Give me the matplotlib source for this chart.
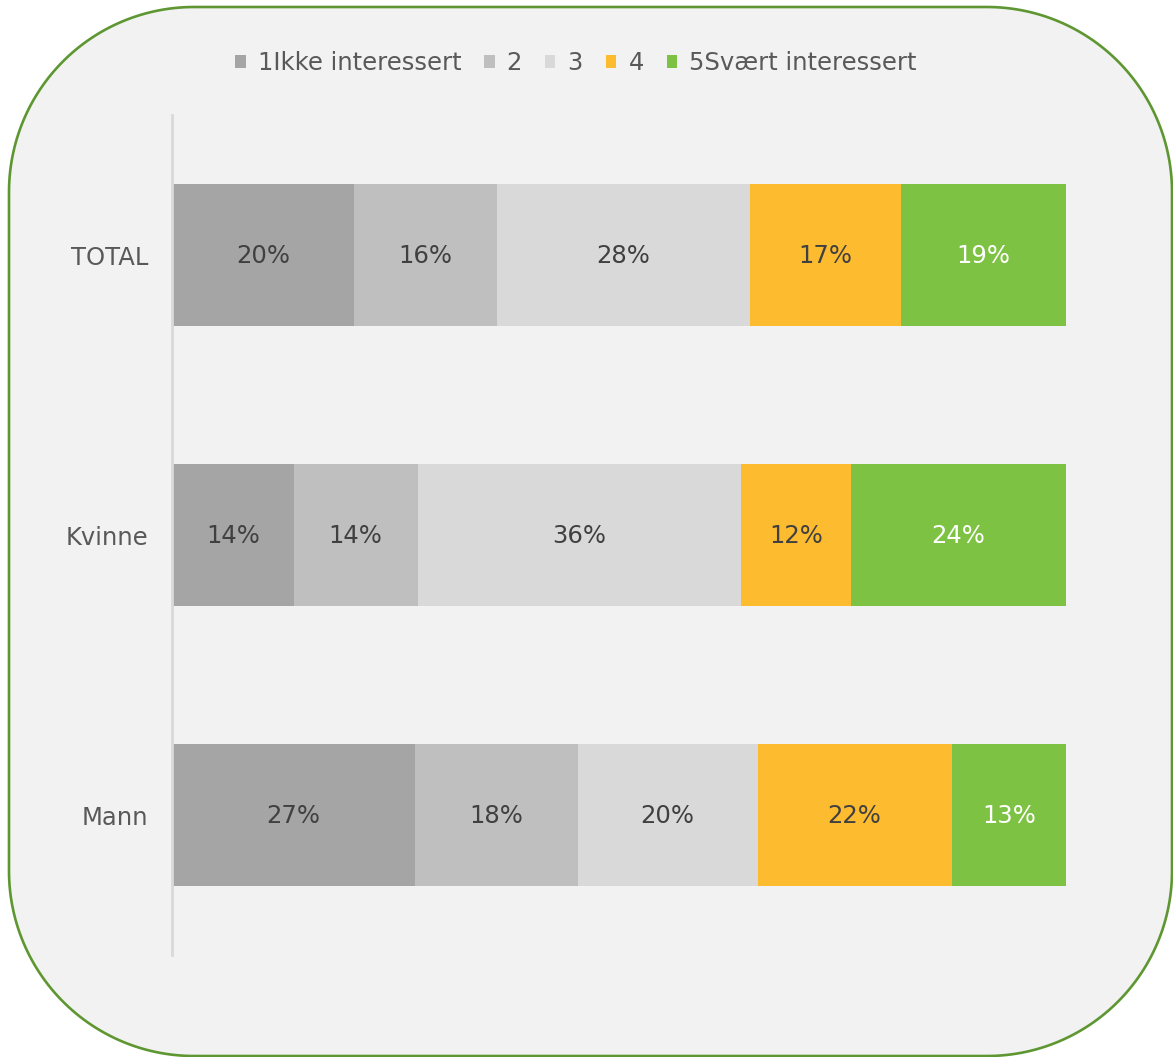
import matplotlib
matplotlib.use("Agg")
import matplotlib.pyplot as plt
from matplotlib.patches import Polygon, Patch
import numpy as np

categories = ["TOTAL", "Kvinne", "Mann"]
series_names = ["1Ikke interessert", "2", "3", "4", "5Svært interessert"]
v1 = [20.4, 13.6, 27.2]
v2 = [15.9, 13.9, 18.2]
v3 = [28.3, 36.2, 20.1]
v4 = [16.9, 12.2, 21.7]
v5 = [18.6, 24.1, 12.8]
colors = ["#A5A5A5", "#BFBFBF", "#D9D9D9", "#FDBB30", "#7DC243"]
label_colors = ["#404040", "#404040", "#404040", "#404040", "#FFFFFF"]

plt.rcParams['font.family'] = ['DejaVu Sans']

W, H = 1173, 1057
fig = plt.figure(figsize=(W / 100, H / 100), dpi=100)
fig.patch.set_facecolor("white")

# background rounded frame (true circular corners), in pixel coords
R = 185
x0, x1, y0, y1 = 9, 1172, 1, 1050
bg = fig.add_axes([0, 0, 1, 1])
bg.set_xlim(0, W)
bg.set_ylim(0, H)
bg.axis("off")
pts = []
for cx, cy, a0 in [(x1 - R, y1 - R, 0), (x0 + R, y1 - R, 90),
                   (x0 + R, y0 + R, 180), (x1 - R, y0 + R, 270)]:
    t = np.radians(np.linspace(a0, a0 + 90, 60))
    pts.append(np.column_stack([cx + R * np.cos(t), cy + R * np.sin(t)]))
pts = np.vstack(pts)
bg.add_patch(Polygon(pts, closed=True, facecolor="#F2F2F2",
                     edgecolor="#5E9732", linewidth=1.9))

ax = fig.add_axes([172 / W, 1 - 955 / H, (1066 - 172) / W, (955 - 115) / H])
ax.set_facecolor("none")
ax.set_xlim(0, 100)
ax.set_ylim(2.5, -0.5)

y = np.arange(len(categories))
data = [v1, v2, v3, v4, v5]
left = np.zeros(len(categories))
handles = []
for vals, name, col, lc in zip(data, series_names, colors, label_colors):
    vals = np.array(vals)
    ax.barh(y, vals, left=left, height=0.51, color=col, edgecolor="none")
    for yi, l, v in zip(y, left, vals):
        ax.text(l + v / 2, yi + 0.005, f"{int(round(v))}%", ha="center", va="center",
                fontsize=17.5, color=lc)
    left = left + vals
    handles.append(Patch(facecolor=col, edgecolor="none", label=name))

ax.set_yticks(y)
ax.set_yticklabels(categories, fontsize=17.5, color="#595959")
ax.tick_params(axis="y", length=0, pad=17)
ax.set_xticks([])
for s in ["top", "right", "bottom"]:
    ax.spines[s].set_visible(False)
ax.spines["left"].set_color("#D9D9D9")
ax.spines["left"].set_linewidth(2)

fig.legend(handles=handles, loc="center", bbox_to_anchor=(576 / W, 1 - 63 / H),
           ncol=5, frameon=False, fontsize=17.5, handlelength=0.42,
           handleheight=0.42, handletextpad=0.5, columnspacing=0.95,
           labelcolor="#595959")

fig.savefig("out.png", dpi=100, facecolor="white")
